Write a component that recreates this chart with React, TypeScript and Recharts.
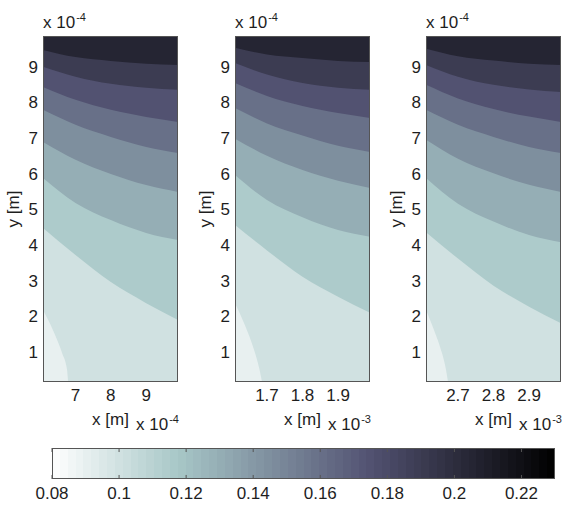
import { Area, CartesianGrid, ComposedChart, ReferenceLine, XAxis, YAxis } from "recharts";

// colour axis
const cMin = 0.08;
const cMax = 0.23;
const cbTicks = [0.08, 0.1, 0.12, 0.14, 0.16, 0.18, 0.2, 0.22];

// y axis, units of 1e-4 m
const yTicks = [1, 2, 3, 4, 5, 6, 7, 8, 9];
const yRange = [0.16, 9.86];

// value of each filled band, lightest (lower-left corner) to darkest (top)
const bandValues = [0.09, 0.1, 0.115, 0.13, 0.145, 0.16, 0.175, 0.19, 0.205];

// panel 1, x in 1e-4 m. contour lines from bottom to top
const p1Range = [6.08, 9.9];
const p1Ticks = [7, 8, 9];
const p1X = [6.08, 7, 8, 9, 9.9];
const p1Lines = [
  [4.48, 3.72, 2.96, 2.37, 1.9],
  [5.88, 5.18, 4.7, 4.34, 4.14],
  [6.89, 6.39, 5.99, 5.68, 5.49],
  [7.79, 7.37, 7.03, 6.75, 6.58],
  [8.43, 8.07, 7.79, 7.59, 7.45],
  [9.0, 8.72, 8.52, 8.41, 8.35],
  [9.47, 9.27, 9.16, 9.08, 9.05],
];
const p1CornerX = [6.08, 6.36, 6.62, 6.76, 6.79];
const p1CornerY = [2.18, 1.62, 0.97, 0.5, 0.16];

// panel 2, x in 1e-3 m
const p2Range = [1.61, 1.99];
const p2Ticks = [1.7, 1.8, 1.9];
const p2X = [1.61, 1.7, 1.8, 1.9, 1.99];
const p2Lines = [
  [4.56, 3.85, 3.11, 2.55, 2.1],
  [5.96, 5.26, 4.78, 4.42, 4.23],
  [6.98, 6.5, 6.1, 5.8, 5.6],
  [7.84, 7.41, 7.07, 6.78, 6.61],
  [8.54, 8.18, 7.9, 7.7, 7.56],
  [9.1, 8.78, 8.54, 8.41, 8.35],
  [9.53, 9.34, 9.24, 9.16, 9.13],
];
const p2CornerX = [1.61, 1.638, 1.664, 1.678, 1.686];
const p2CornerY = [2.37, 1.75, 1.05, 0.55, 0.16];

// panel 3, x in 1e-3 m
const p3Range = [2.61, 2.99];
const p3Ticks = [2.7, 2.8, 2.9];
const p3X = [2.61, 2.7, 2.8, 2.9, 2.99];
const p3Lines = [
  [4.36, 3.62, 2.86, 2.27, 1.81],
  [5.88, 5.16, 4.66, 4.28, 4.08],
  [6.95, 6.42, 6.01, 5.69, 5.49],
  [7.79, 7.37, 7.03, 6.75, 6.58],
  [8.49, 8.11, 7.81, 7.6, 7.45],
  [9.05, 8.72, 8.49, 8.36, 8.29],
  [9.5, 9.29, 9.17, 9.08, 9.05],
];
const p3CornerX = [2.61, 2.6325, 2.655, 2.666, 2.672];
const p3CornerY = [2.18, 1.62, 0.97, 0.52, 0.16];

const FONT = '"Liberation Sans", Arial, Helvetica, sans-serif';
const BORDER = "#555";
const TEXT = "#1e1e1e";
const FS = 17;
const PLOT_W = 135;
const PLOT_TOP = 36;
const PLOT_H = 346;

function clamp(v: number) {
  return Math.max(0, Math.min(1, v));
}

// matlab flipud(bone)
function boneFlip(v: number) {
  const t = clamp(1 - (v - cMin) / (cMax - cMin));
  const hr = clamp(t / 0.375);
  const hg = clamp((t - 0.375) / 0.375);
  const hb = clamp((t - 0.75) / 0.25);
  const r = (7 * t + hb) / 8;
  const g = (7 * t + hg) / 8;
  const b = (7 * t + hr) / 8;
  return `rgb(${Math.round(r * 255)},${Math.round(g * 255)},${Math.round(b * 255)})`;
}

const tickStyle = { fill: TEXT, fontSize: FS, fontFamily: FONT };

type PanelProps = {
  plotLeft: number;
  range: number[];
  ticks: number[];
  xs: number[];
  lines: number[][];
  cornerX: number[];
  cornerY: number[];
};

function Panel({ plotLeft, range, ticks, xs, lines, cornerX, cornerY }: PanelProps) {
  const top = [
    { x: range[0], y: yRange[1] },
    { x: range[1], y: yRange[1] },
  ];
  const contours = lines.map((ys, i) => ({ i, d: xs.map((x, j) => ({ x, y: ys[j] })) }));
  const corner = cornerX.map((x, i) => ({ x, y: cornerY[i] }));
  return (
    <div style={{ position: "absolute", left: plotLeft - 43, top: 0 }}>
      <ComposedChart width={43 + PLOT_W + 1} height={440} margin={{ top: PLOT_TOP, right: 1, bottom: 28, left: 0 }}>
        <Area data={top} dataKey="y" type="linear" fill={boneFlip(bandValues[8])} fillOpacity={1}
          stroke="none" baseValue="dataMin" isAnimationActive={false} />
        {[...contours].reverse().map(({ i, d }) => (
          <Area key={i} data={d} dataKey="y" type="monotone" fill={boneFlip(bandValues[i + 1])} fillOpacity={1}
            stroke="none" baseValue="dataMin" isAnimationActive={false} />
        ))}
        <Area data={corner} dataKey="y" type="monotone" fill={boneFlip(bandValues[0])} fillOpacity={1}
          stroke="none" baseValue="dataMin" isAnimationActive={false} />
        <XAxis dataKey="x" type="number" domain={range} ticks={ticks} allowDataOverflow height={30}
          tickLine={false} tickSize={0} tickMargin={7} axisLine={false} tick={tickStyle}
          label={{ value: "x [m]", position: "bottom", offset: 1, fill: TEXT, fontSize: FS, fontFamily: FONT }} />
        <YAxis type="number" domain={yRange} ticks={yTicks} allowDataOverflow width={43}
          tickLine={false} tickSize={0} tickMargin={5} axisLine={false} tick={tickStyle} />
      </ComposedChart>
    </div>
  );
}

const panels = [
  { plotLeft: 43, exp: "-4" },
  { plotLeft: 235, exp: "-3" },
  { plotLeft: 426, exp: "-3" },
];

export default function App() {
  const cbData = cbTicks.map((v) => ({ x: v, y: 0.5 }));
  const stops = [];
  for (let i = 0; i < 64; i++) {
    const c = boneFlip(cMin + ((i + 0.5) / 64) * (cMax - cMin));
    stops.push(<stop key={`a${i}`} offset={i / 64} stopColor={c} />);
    stops.push(<stop key={`b${i}`} offset={(i + 1) / 64} stopColor={c} />);
  }
  return (
    <div style={{ position: "absolute", left: 0, top: 0, width: 562, height: 505, background: "#fff", fontFamily: FONT, overflow: "hidden" }}>
      <svg width={0} height={0} style={{ position: "absolute" }}>
        <defs>
          <linearGradient id="cbar" x1="0" y1="0" x2="1" y2="0">
            {stops}
          </linearGradient>
        </defs>
      </svg>

      <Panel plotLeft={43} range={p1Range} ticks={p1Ticks} xs={p1X} lines={p1Lines} cornerX={p1CornerX} cornerY={p1CornerY} />
      <Panel plotLeft={235} range={p2Range} ticks={p2Ticks} xs={p2X} lines={p2Lines} cornerX={p2CornerX} cornerY={p2CornerY} />
      <Panel plotLeft={426} range={p3Range} ticks={p3Ticks} xs={p3X} lines={p3Lines} cornerX={p3CornerX} cornerY={p3CornerY} />

      <div style={{ position: "absolute", left: 0, top: 420 }}>
        <ComposedChart data={cbData} width={562} height={85} margin={{ top: 28, right: 7, bottom: 0, left: 52 }}>
          <CartesianGrid horizontal={false} vertical={false} fill="url(#cbar)" fillOpacity={1} />
          <XAxis dataKey="x" type="number" domain={[cMin, cMax]} ticks={cbTicks} allowDataOverflow height={26}
            tickLine={false} tickSize={0} tickMargin={8} axisLine={false} tick={tickStyle} />
          <YAxis type="number" domain={[0, 1]} allowDataOverflow hide />
          {cbTicks.map((v) => (
            <ReferenceLine key={`b${v}`} segment={[{ x: v, y: 0 }, { x: v, y: 0.13 }]} stroke={BORDER} />
          ))}
          {cbTicks.map((v) => (
            <ReferenceLine key={`t${v}`} segment={[{ x: v, y: 0.87 }, { x: v, y: 1 }]} stroke={BORDER} />
          ))}
        </ComposedChart>
      </div>

      <svg width={562} height={505} style={{ position: "absolute", left: 0, top: 0, pointerEvents: "none" }}
        fontFamily={FONT} fill={TEXT}>
        {panels.map((p) => (
          <g key={p.plotLeft}>
            <rect x={p.plotLeft + 0.5} y={PLOT_TOP + 0.5} width={PLOT_W - 1} height={PLOT_H - 1}
              fill="none" stroke={BORDER} />
            <text x={p.plotLeft} y={28} fontSize={FS}>
              x 10<tspan dx={1} dy={-7} fontSize={11}>-4</tspan>
            </text>
            <text x={p.plotLeft + PLOT_W - 42} y={430} fontSize={FS}>
              x 10<tspan dx={1} dy={-7} fontSize={11}>{p.exp}</tspan>
            </text>
            <text transform={`translate(${p.plotLeft - 30},209) rotate(-90)`} textAnchor="middle"
              dominantBaseline="central" fontSize={FS}>
              y [m]
            </text>
          </g>
        ))}
        <rect x={52.5} y={448.5} width={502} height={30} fill="none" stroke={BORDER} />
      </svg>
    </div>
  );
}
